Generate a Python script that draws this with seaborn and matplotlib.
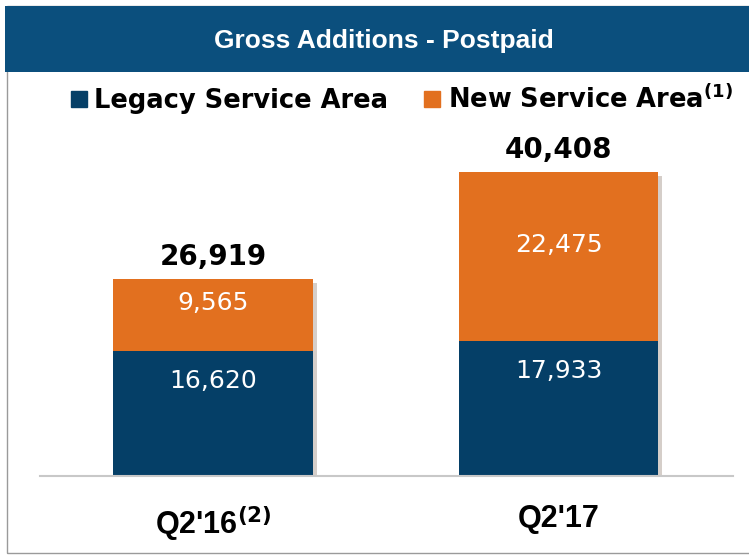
import matplotlib
matplotlib.use("Agg")
import matplotlib.pyplot as plt
import matplotlib.patheffects as pe
from matplotlib.patches import Rectangle, Patch
import pandas as pd
import seaborn as sns

# ---------------------------------------------------------------------------
# Data
# ---------------------------------------------------------------------------
QUARTERS = ["Q2'16", "Q2'17"]
TICK_LABELS = ["Q2'16$^{\\mathbf{(2)}}$", "Q2'17"]
LEGACY = [16620, 17933]
NEW_AREA = [9565, 22475]
TOTALS = [26919, 40408]

BLUE = "#053f67"
ORANGE = "#e2701f"
BANNER = "#0b4f7d"

sns.set_theme(style="white")
plt.rcParams["font.family"] = ["DejaVu Sans"]
plt.rcParams["text.color"] = "black"

df = pd.DataFrame({"quarter": QUARTERS, "legacy": LEGACY, "new": NEW_AREA})
df["stack"] = df["legacy"] + df["new"]

W, H = 749, 555
fig = plt.figure(figsize=(W / 100, H / 100), dpi=100)
ax = fig.add_axes([40 / W, 1 - 476 / H, 693 / W, 376 / H])

# stacked bars: full stack in orange, legacy drawn over it
sns.barplot(data=df, x="quarter", y="stack", color=ORANGE, width=0.576,
            saturation=1, linewidth=0, ax=ax)
n_first = len(ax.patches)
for p in ax.patches[:n_first]:
    p.set_path_effects([pe.SimplePatchShadow(offset=(3, -3), alpha=0.22), pe.Normal()])
sns.barplot(data=df, x="quarter", y="legacy", color=BLUE, width=0.576,
            saturation=1, linewidth=0, ax=ax)

ax.set_ylim(0, 50000)
ax.set_xlim(-0.5007, 1.505)

for i, row in df.iterrows():
    ax.annotate(f"{row['legacy']:,}", (i, row["legacy"]), xytext=(0, -30),
                textcoords="offset pixels", ha="center", va="center",
                color="white", fontsize=18)
    ax.annotate(f"{row['new']:,}", (i, row["legacy"] + row["new"] / 2),
                xytext=(0, 12), textcoords="offset pixels", ha="center",
                va="center", color="white", fontsize=18)
    ax.annotate(f"{TOTALS[i]:,}", (i, row["stack"]), xytext=(0, 14),
                textcoords="offset pixels", ha="center", va="baseline",
                color="black", fontsize=20, fontweight="bold")

ax.set_xticks([0, 1])
ax.set_xticklabels(TICK_LABELS, fontfamily="Liberation Sans", fontweight="bold",
                   fontsize=22, color="black")
ax.set_yticks([])
ax.set_xlabel("")
ax.set_ylabel("")
ax.tick_params(axis="x", length=0, pad=20)
for side in ["top", "left", "right"]:
    ax.spines[side].set_visible(False)
ax.spines["bottom"].set_color("#c8c8c8")
ax.spines["bottom"].set_linewidth(1.5)

# frame and title banner
fig.patches.append(Rectangle((7 / W, 2 / H), 2, (H - 8) / H, transform=fig.transFigure,
                             fill=False, edgecolor="#9a9a9a", linewidth=1))
fig.patches.append(Rectangle((5 / W, 1 - 72 / H), 2, 66 / H, transform=fig.transFigure,
                             facecolor=BANNER, edgecolor="none"))
fig.text(384 / W, 1 - 41 / H, "Gross Additions - Postpaid", ha="center", va="center",
         color="white", fontsize=19, fontweight="bold", fontfamily="Liberation Sans")

handles = [Patch(color=BLUE, label="Legacy Service Area"),
           Patch(color=ORANGE, label="New Service Area$^{\\mathbf{(1)}}$")]
leg = fig.legend(handles=handles, loc="center", bbox_to_anchor=(402 / W, 1 - 100 / H),
                 ncol=2, frameon=False, handlelength=0.6, handleheight=0.6,
                 handletextpad=0.3, columnspacing=1.4, borderaxespad=0,
                 prop=dict(family="DejaVu Sans", weight="bold", size=18.5))
for t in leg.get_texts():
    t.set_color("black")

fig.savefig("out.png", dpi=100)
